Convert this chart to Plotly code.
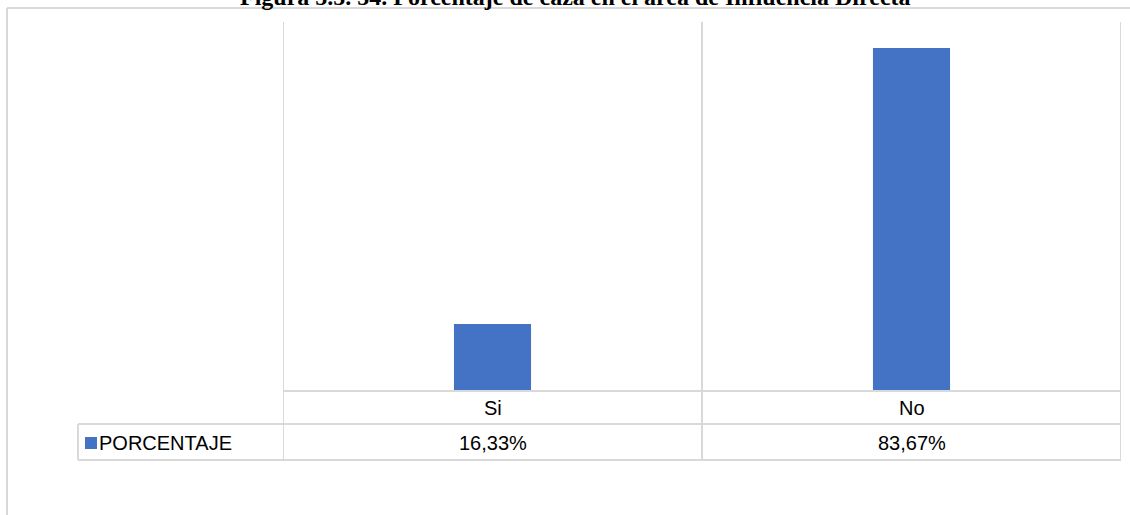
import plotly.graph_objects as go

categorias = ["Si", "No"]
porcentajes = [16.33, 83.67]
etiquetas = ["16,33%", "83,67%"]
serie = "PORCENTAJE"
titulo = "Figura 5.5. 54. Porcentaje de caza en el área de Influencia Directa"

W, H = 1130, 515
L, R, T, B = 283, 9, 22, 124
pw, ph = W - L - R, H - T - B

def px(x):
    return (x - L) / pw

def py(y):
    return (H - B - y) / ph

azul = "#4472c4"
gris = "#d9d9d9"
fuente = "Liberation Sans, Arial, sans-serif"

fig = go.Figure(go.Bar(
    x=list(range(len(categorias))), y=porcentajes,
    marker=dict(color=azul, line=dict(width=0)),
    width=0.184, name=serie,
))

shapes = []
line = dict(color=gris, width=2)
# vertical separators (category borders)
for i in range(len(categorias) + 1):
    shapes.append(dict(type="line", xref="x", yref="paper",
                       x0=i - 0.5, x1=i - 0.5, y0=py(460), y1=1, line=line))
# table horizontal lines
shapes.append(dict(type="line", xref="x", yref="paper", x0=-0.5, x1=len(categorias) - 0.5,
                   y0=0, y1=0, line=line))
for yy in (424, 460):
    shapes.append(dict(type="line", xref="paper", yref="paper", x0=px(78), x1=1,
                       y0=py(yy), y1=py(yy), line=line))
shapes.append(dict(type="line", xref="paper", yref="paper", x0=px(78), x1=px(78),
                   y0=py(424), y1=py(460), line=line))
# outer chart border
shapes.append(dict(type="line", xref="paper", yref="paper", x0=px(7), x1=px(W + 5),
                   y0=py(8), y1=py(8), line=line))
shapes.append(dict(type="line", xref="paper", yref="paper", x0=px(7), x1=px(7),
                   y0=py(8), y1=py(W), line=line))
# legend key
shapes.append(dict(type="rect", xref="paper", yref="paper", x0=px(85), x1=px(97),
                   y0=py(437), y1=py(449), fillcolor=azul, line=dict(width=0)))

txt = dict(family=fuente, size=20, color="#000")
annotations = []
for i, (c, e) in enumerate(zip(categorias, etiquetas)):
    annotations.append(dict(x=i, y=py(407.5), xref="x", yref="paper", text=c,
                            xanchor="center", yanchor="middle", showarrow=False, font=txt))
    annotations.append(dict(x=i, y=py(443), xref="x", yref="paper", text=e,
                            xanchor="center", yanchor="middle", showarrow=False, font=txt))
annotations.append(dict(x=px(97), y=py(443), xref="paper", yref="paper", text=serie,
                        xanchor="left", yanchor="middle", showarrow=False, font=txt))
annotations.append(dict(x=px(575), y=py(12), xref="paper", yref="paper", text="<b>" + titulo + "</b>",
                        xanchor="center", yanchor="bottom", showarrow=False,
                        font=dict(family="Liberation Serif, Times New Roman, serif", size=24, color="#000")))

fig.update_layout(
    width=W, height=H,
    margin=dict(l=L, r=R, t=T, b=B),
    paper_bgcolor="white", plot_bgcolor="white",
    showlegend=False,
    xaxis=dict(range=[-0.5, len(categorias) - 0.5], showticklabels=False, showgrid=False,
               zeroline=False, showline=False, ticks=""),
    yaxis=dict(range=[0, 90], visible=False, showgrid=False, zeroline=False),
    shapes=shapes, annotations=annotations,
)

fig.write_html("out.html", config=dict(displayModeBar=False),
               post_script="document.body.style.margin='0';document.body.style.overflow='hidden';")
